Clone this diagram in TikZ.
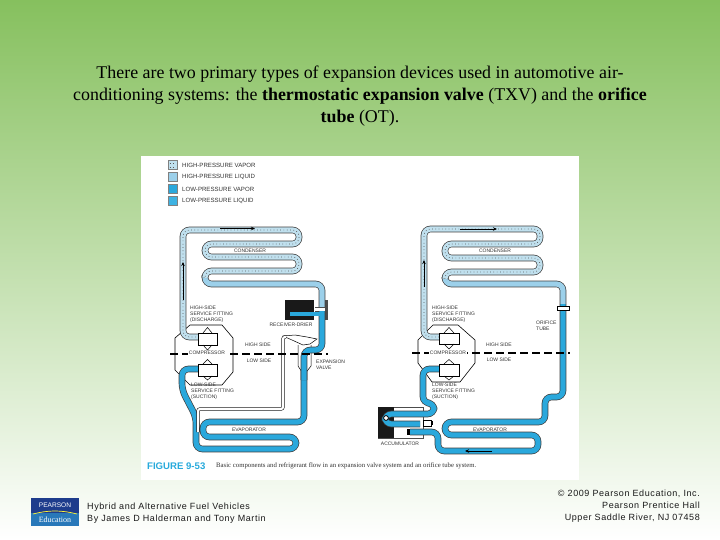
\documentclass[tikz,border=0pt]{standalone}
\usepackage{fontspec}
\setmainfont{Liberation Serif}
\setsansfont{Liberation Sans}
\usepackage{xcolor}
\definecolor{bgtop}{RGB}{134,192,94}
\definecolor{bgmid}{RGB}{196,226,170}
\definecolor{hpvapor}{RGB}{192,224,238}
\definecolor{hpliquid}{RGB}{156,208,234}
\definecolor{lpvapor}{RGB}{42,168,220}
\definecolor{lpliquid}{RGB}{62,178,226}
\definecolor{logonavy}{RGB}{30,60,140}
\definecolor{logoblue}{RGB}{40,120,185}
\definecolor{figcyan}{RGB}{40,170,220}
\usetikzlibrary{arrows.meta,positioning}
\tikzset{
  pipe/.style={draw=black!75, line width=0.7pt, double distance=5.2pt, rounded corners=6.5pt},
  pipehp/.style={pipe, double=hpvapor},
  pipeliq/.style={pipe, double=hpliquid},
  pipelp/.style={pipe, double=lpvapor},
  vapordots/.style={black!65, line width=0.7pt, dash pattern=on 0.7pt off 2.6pt, rounded corners=6.5pt},
  capline/.style={draw=black, line width=0.5pt, double=white, double distance=2.2pt, rounded corners=2pt},
  flowarrow/.style={-{Stealth[length=4pt,width=3.5pt]}, black, line width=0.7pt},
  lbl/.style={font=\sffamily\fontsize{5}{6}\selectfont, text=black!80, inner sep=0pt, align=left},
  legendlbl/.style={font=\sffamily\fontsize{6.1}{7}\selectfont, text=black!80, inner sep=0pt, anchor=west},
  swatch/.style={draw=black!50, line width=0.3pt},
  footer/.style={font=\sffamily\fontsize{9}{11.9}\selectfont\addfontfeature{LetterSpace=6.5}, text=black!90, inner sep=0pt}
}
\begin{document}
\begin{tikzpicture}[x=1pt, y=-1pt]
\useasboundingbox (0,0) rectangle (720,540);

% --- Slide background ---
\shade[top color=bgtop, middle color=bgmid, bottom color=white] (0,0) rectangle (720,540);

% Title
\node[font=\fontsize{17.9}{22}\selectfont, align=center, inner sep=0pt] (title) at (360,96.5)
  {There are two primary types of expansion devices used in automotive air-\\
   conditioning systems: the \textbf{thermostatic expansion valve} (TXV) and the \textbf{orifice}\\
   \textbf{tube} (OT).};

% --- Figure sheet ---
\fill[white] (141,156) rectangle (579,480);

% Legend
\draw[swatch, fill=hpvapor] (168,160.5) rectangle (177,169.5);
\draw[black!65, line width=0.7pt, dash pattern=on 0.7pt off 2.6pt] (169.5,163) -- (176,163) (169.5,167) -- (176,167);
\draw[swatch, fill=hpliquid] (168,172.5) rectangle (177,181.5);
\draw[swatch, fill=lpvapor] (168,184.5) rectangle (177,193.5);
\draw[swatch, fill=lpliquid] (168,196.5) rectangle (177,205.5);
\node[legendlbl] (leg1) at (182,165) {HIGH-PRESSURE VAPOR};
\node[legendlbl] (leg2) at (182,177) {HIGH-PRESSURE LIQUID};
\node[legendlbl] (leg3) at (182,189) {LOW-PRESSURE VAPOR};
\node[legendlbl] (leg4) at (182,201) {LOW-PRESSURE LIQUID};

% --- Left system: expansion valve ---
% Compressor body
\draw[black, line width=0.6pt, fill=white] (190,325) -- (222,325) -- (233,338) -- (233,372) -- (222,385)
  -- (190,385) -- (175,370) -- (175,338) -- cycle;

% Receiver-drier
\fill[black!90] (285,300) rectangle (314,320);
\fill[black!70] (325,300) rectangle (327.5,320);

% Evaporator and suction line
\draw[pipelp] (304,356) -- (304,422) -- (203,422) -- (203,437) -- (296,437) -- (296,449) -- (196,449)
  -- (196,417) -- (182,390) -- (182,369) -- (199,369);

% High side lines
\draw[pipeliq] (205,275) -- (205,284) -- (322,284) -- (322,307);
\draw[pipehp] (199,337) -- (183,337) -- (183,230) -- (299,230) -- (299,244) -- (205,244)
  -- (205,257) -- (299,257) -- (299,271) -- (205,271) -- (205,276);
\draw[vapordots] (199,337) -- (183,337) -- (183,230) -- (299,230) -- (299,244) -- (205,244)
  -- (205,257) -- (299,257) -- (299,271) -- (205,271) -- (205,276);
\fill[white] (316,307) rectangle (325,311);
\draw[black!70, line width=0.4pt] (315,307) -- (325,307) (315,311) -- (325,311);

% Expansion valve
\draw[black, line width=0.5pt, fill=white] (298,345) -- (298,366) -- (304,375) -- (311,366) -- (311,345);
\draw[pipelp] (322,311) -- (322,350) -- (304,350) -- (304,380);
\draw[lpvapor, line width=4pt] (290,314) -- (320,314);
\draw[black, line width=0.5pt, fill=white] (283,336) -- (295,335) -- (307,337) -- (317,339) -- (310,344)
  -- (303,345) -- (292,340) -- cycle;
\draw[capline] (286,337) -- (283,337) -- (283,409) -- (198,409) -- (198,432);

% Compressor fittings
\draw[black, line width=0.6pt, fill=white] (198,333) rectangle (217,345);
\draw[black, line width=0.5pt] (203,333) -- (207.5,327.5) -- (212,333) (203,345) -- (207.5,350) -- (212,345);
\draw[black, line width=0.6pt, fill=white] (198,364) rectangle (217,376);
\draw[black, line width=0.5pt] (203,364) -- (207.5,359.5) -- (212,364) (203,376) -- (207.5,380) -- (212,376);

% Separation line
\draw[black, line width=1.5pt, dash pattern=on 8pt off 4pt] (170,354) -- (328,354);

% Flow arrows
\draw[flowarrow] (220,228.5) -- (255,228.5);
\draw[flowarrow] (183,300) -- (183,262);

% Labels
\node[lbl, fill=white, inner xsep=1pt] (compL) at (207,353) {COMPRESSOR};
\node[lbl] (condL) at (250,250.5) {CONDENSER};
\node[lbl, anchor=west] (fitHL) at (190,314) {HIGH-SIDE\\SERVICE FITTING\\(DISCHARGE)};
\node[lbl] (drierL) at (291,325) {RECEIVER-DRIER};
\node[lbl] (highL) at (258,345) {HIGH SIDE};
\node[lbl] (lowL) at (259,361) {LOW SIDE};
\node[lbl, anchor=west] (valveL) at (316,364.5) {EXPANSION\\VALVE};
\node[lbl, anchor=west] (fitLL) at (191,391) {LOW-SIDE\\SERVICE FITTING\\(SUCTION)};
\node[lbl] (evapL) at (249,430) {EVAPORATOR};

% --- Right system: orifice tube ---
% Compressor body
\draw[black, line width=0.6pt, fill=white] (433,325) -- (458,325) -- (475,340) -- (475,363) -- (460,382)
  -- (432,382) -- (418,363) -- (418,340) -- cycle;

% Accumulator
\draw[black!70, line width=0.5pt, fill=white] (378,407) rectangle (423,438);
\fill[black!90] (378,407) rectangle (394,438);

% High side lines
\draw[pipeliq] (445,277) -- (445,284) -- (563,284) -- (563,304);
\draw[pipehp] (439,337) -- (424,337) -- (424,229) -- (540,229) -- (540,244) -- (445,244)
  -- (445,258) -- (540,258) -- (540,272) -- (445,272) -- (445,278);
\draw[vapordots] (439,337) -- (424,337) -- (424,229) -- (540,229) -- (540,244) -- (445,244)
  -- (445,258) -- (540,258) -- (540,272) -- (445,272) -- (445,278);

% Low side lines
\draw[pipelp] (563,304) -- (563,397) -- (545,397) -- (545,422) -- (445,422) -- (445,435) -- (538,435)
  -- (538,451) -- (438,451) -- (438,432) -- (410,432);
\draw[pipelp] (439,369) -- (423,369) -- (423,403) -- (434,403) -- (434,414) -- (385,414) -- (385,424) -- (420,424);

% Orifice tube and accumulator fittings
\draw[black, line width=0.5pt, fill=white] (557,306) rectangle (569,310);
\draw[black, line width=0.5pt, fill=white] (423,420) rectangle (431,426);
\fill[black] (431,421) rectangle (433,425);
\fill[black] (407,429) rectangle (410,435);
\draw[black, line width=0.8pt, fill=white] (386,418) circle (2.4pt);

% Compressor fittings
\draw[black, line width=0.6pt, fill=white] (439,333) rectangle (459,344);
\draw[black, line width=0.5pt] (444,333) -- (449,327.5) -- (454,333) (444,344) -- (449,349) -- (454,344);
\draw[black, line width=0.6pt, fill=white] (439,364) rectangle (459,376);
\draw[black, line width=0.5pt] (444,364) -- (449,359.5) -- (454,364) (444,376) -- (449,380) -- (454,376);

% Separation line
\draw[black, line width=1.5pt, dash pattern=on 8pt off 4pt] (412,353) -- (570,353);

% Flow arrows
\draw[flowarrow] (460,229) -- (497,229);
\draw[flowarrow] (424,287) -- (424,260);
\draw[flowarrow] (492,451) -- (465,451);

% Labels
\node[lbl, fill=white, inner xsep=1pt] (compR) at (448,353) {COMPRESSOR};
\node[lbl] (condR) at (495,251) {CONDENSER};
\node[lbl, anchor=west] (fitHR) at (432,314) {HIGH-SIDE\\SERVICE FITTING\\(DISCHARGE)};
\node[lbl, anchor=west] (orifice) at (536,326) {ORIFICE\\TUBE};
\node[lbl] (highR) at (499,345) {HIGH SIDE};
\node[lbl] (lowR) at (499,360) {LOW SIDE};
\node[lbl, anchor=west] (fitLR) at (432,391) {LOW-SIDE\\SERVICE FITTING\\(SUCTION)};
\node[lbl] (evapR) at (490,430) {EVAPORATOR};
\node[lbl] (accum) at (400,444) {ACCUMULATOR};

% Figure caption
\node[font=\sffamily\bfseries\fontsize{9.6}{10}\selectfont, text=figcyan, inner sep=0pt, anchor=west] (figno) at (147,466) {FIGURE 9-53};
\node[font=\fontsize{6.75}{8}\selectfont, text=black!80, inner sep=0pt, anchor=west] (figcap) at (216,466)
  {Basic components and refrigerant flow in an expansion valve system and an orifice tube system.};

% --- Footer ---
\fill[logonavy] (31,498) rectangle (79,526);
\fill[logoblue] (31,513) rectangle (79,526);
\draw[yellow!80!white, line width=0.7pt] (33,514) .. controls (48,510) and (62,510) .. (77,514);
\node[font=\sffamily\fontsize{6.6}{8}\selectfont, text=white, inner sep=0pt] (logotop) at (55,505) {PEARSON};
\node[font=\fontsize{8}{9}\selectfont, text=white, inner sep=0pt] (logobot) at (55,519.5) {Education};

\node[footer, align=left, anchor=west] (book) at (87,513)
  {Hybrid and Alternative Fuel Vehicles\\By James D Halderman and Tony Martin};
\node[footer, align=right, anchor=east] (copy) at (700,506.5)
  {© 2009 Pearson Education, Inc.\\Pearson Prentice Hall\\Upper Saddle River, NJ 07458};

\end{tikzpicture}
\end{document}
